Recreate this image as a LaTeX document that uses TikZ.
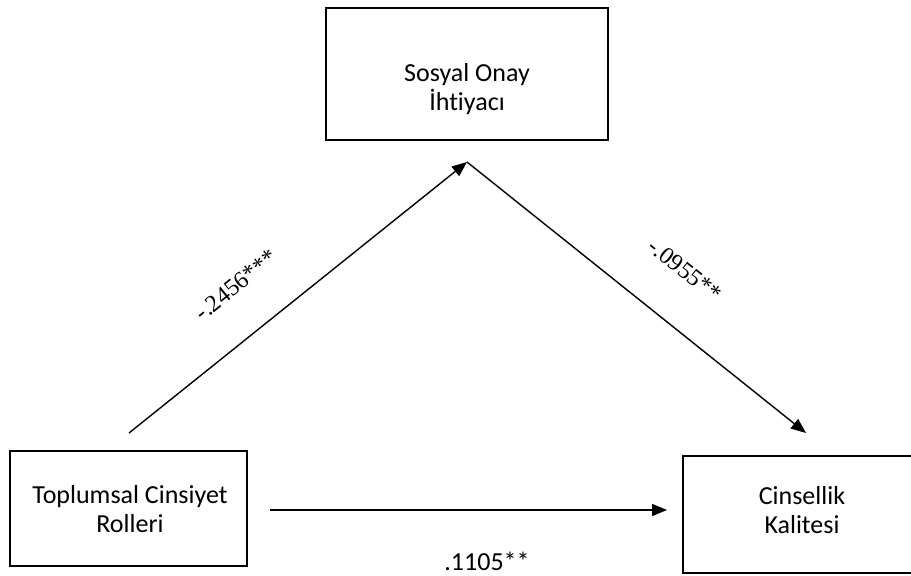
\documentclass[tikz,border=0pt]{standalone}
\usepackage{fontspec}
\setmainfont[Ligatures={NoCommon,NoRare,NoDiscretionary}]{Carlito}
\newfontfamily\timesf{Liberation Serif}
\usetikzlibrary{arrows.meta}
\begin{document}
\begin{tikzpicture}[x=1pt,y=-1pt,
  box/.style={draw,line width=1.4pt,inner sep=0pt},
  lbl/.style={font=\fontsize{26}{29}\selectfont,align=center,inner sep=0pt},
  coef/.style={font=\timesf\fontsize{24}{28}\selectfont,inner sep=0pt},
  arr/.style={line width=1.4pt,-{Triangle[length=15pt,width=12pt]}}]
\useasboundingbox (0,0) rectangle (911,576);
\clip (0,0) rectangle (911,576);
\node[box,minimum width=282pt,minimum height=132pt] (top) at (467,74) {};
\node[box,minimum width=237pt,minimum height=115pt] (left) at (128.5,508.5) {};
\node[box,minimum width=238pt,minimum height=117pt] (right) at (802,514.5) {};
\node[lbl] (topT) at (467,89) {Sosyal Onay\\İhtiyacı};
\node[lbl] (leftT) at (130,509) {Toplumsal Cinsiyet\\Rolleri};
\node[lbl] (rightT) at (802,510) {Cinsellik\\Kalitesi};
\coordinate (a1s) at (129,433);
\coordinate (apex) at (467,162);
\coordinate (a2e) at (806,433);
\coordinate (hs) at (270,510);
\coordinate (he) at (667,510);
\draw[arr] (a1s) -- (apex);
\draw[arr] (apex) -- (a2e);
\draw[arr] (hs) -- (he);
\node[coef,rotate=39] (c1) at (236,285) {-.2456***};
\node[coef,rotate=-38] (c2) at (685,270) {-.0955**};
\node[font=\fontsize{26}{29}\selectfont,inner sep=0pt] (c3) at (487,561) {.1105**};
\end{tikzpicture}
\end{document}
